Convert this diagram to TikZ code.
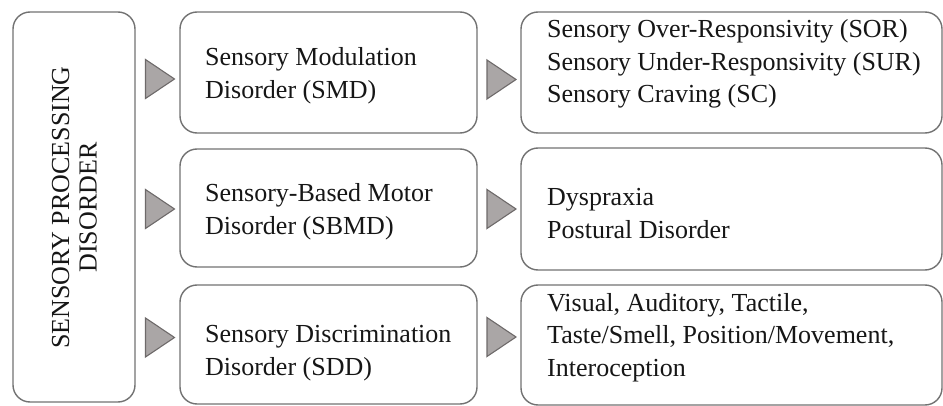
\documentclass[tikz,border=0pt]{standalone}
\usepackage{fontspec}
\setmainfont{Liberation Serif}
\definecolor{boxline}{HTML}{727272}
\definecolor{trifill}{HTML}{AAA6A6}
\definecolor{triline}{HTML}{6E6A6A}
\definecolor{ink}{HTML}{161616}
\begin{document}
\begin{tikzpicture}[x=1pt,y=-1pt,
  panel/.style={draw=boxline,line width=1.4pt,rounded corners=17pt,fill=white,
    inner sep=0pt,minimum width=#1},
  label/.style={anchor=west,inner sep=0pt,align=left,text=ink,
    font=\fontsize{26}{32.5}\selectfont},
  pointer/.style={fill=trifill,draw=triline,line width=1.1pt,line join=miter}]
\useasboundingbox (0,0) rectangle (943,406);

% outer category
\node[panel=122pt,minimum height=390pt] (spd) at (74,207) {};
\node[rotate=90,align=center,inner sep=0pt,text=ink,
  font=\fontsize{26}{27.5}\selectfont] (spdtext) at (74.5,207.5)
  {SENSORY PROCESSING\\DISORDER};

% disorder subtypes
\node[panel=297pt,minimum height=121pt] (smd)  at (328.5,72.5) {};
\node[panel=297pt,minimum height=118pt] (sbmd) at (328.5,208) {};
\node[panel=297pt,minimum height=119pt] (sdd)  at (328.5,344.5) {};

% subtype details
\node[panel=421pt,minimum height=121pt] (sor) at (731.5,72.5) {};
\node[panel=421pt,minimum height=122pt] (dys) at (731.5,209) {};
\node[panel=421pt,minimum height=120pt] (vis) at (731.5,345) {};

% texts
\node[label] (smdtext)  at (205,75.5)  {Sensory Modulation\\Disorder (SMD)};
\node[label] (sbmdtext) at (205,211.5) {Sensory-Based Motor\\Disorder (SBMD)};
\node[label] (sddtext)  at (205,353)   {Sensory Discrimination\\Disorder (SDD)};
\node[label] (sortext)  at (547,64)
  {Sensory Over-Responsivity (SOR)\\Sensory Under-Responsivity (SUR)\\Sensory Craving (SC)};
\node[label] (dystext)  at (547,213.5) {Dyspraxia\\Postural Disorder};
\node[label] (vistext)  at (547,337.5)
  {Visual, Auditory, Tactile,\\Taste/Smell, Position/Movement,\\Interoception};

% pointer triangles between the columns
\coordinate (p1) at (160,79);
\coordinate (p2) at (160,209);
\coordinate (p3) at (160,337.5);
\coordinate (q1) at (501.5,79.5);
\coordinate (q2) at (501.5,209);
\coordinate (q3) at (501.5,337);
\foreach \p in {p1,p2,p3,q1,q2,q3}
  \path[pointer] (\p) ++(-14.5,-19.5) -- ++(29,19.5) -- ++(-29,19.5) -- cycle;
\end{tikzpicture}
\end{document}
